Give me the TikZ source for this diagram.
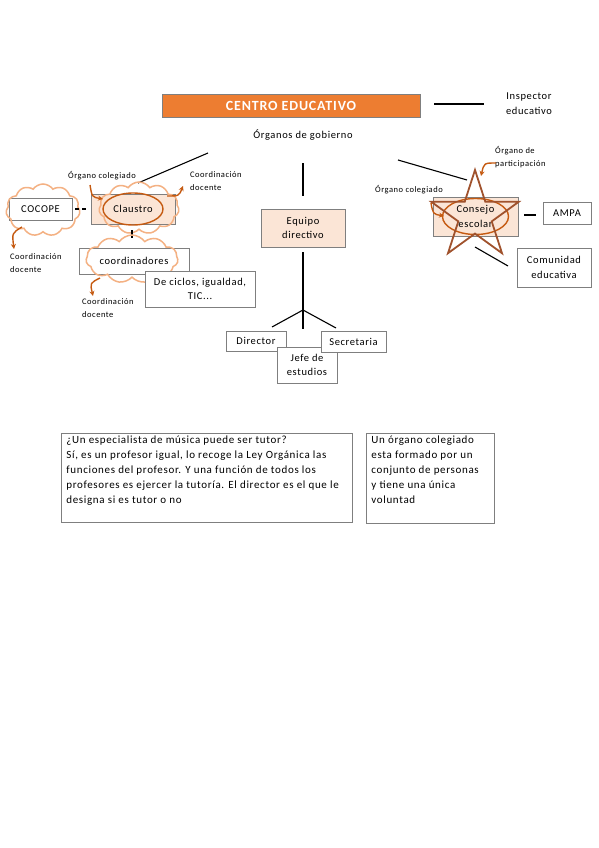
\documentclass[tikz,border=0pt]{standalone}
\usepackage{fontspec}
\setmainfont{Carlito}[LetterSpace=6]
\usepackage{xcolor}
\definecolor{CEorange}{HTML}{ED7D31}
\definecolor{CEpeach}{HTML}{FBE5D6}
\definecolor{CEbrown}{HTML}{C55A11}
\definecolor{CEstar}{HTML}{A0522D}
\definecolor{CEcloud}{HTML}{F4B183}
\definecolor{CEgray}{HTML}{7F7F7F}
\usetikzlibrary{arrows.meta, shapes.geometric, shapes.symbols, positioning}

\begin{document}
\begin{tikzpicture}[x=1pt, y=-1pt]
\tikzset{
  box/.style={draw=CEgray, thick, fill=white, inner sep=1pt, align=center,
    font=\fontsize{10.5}{14.5}\selectfont},
  tinted/.style={box, fill=CEpeach},
  note/.style={font=\fontsize{8.5}{13}\selectfont, align=left, inner sep=0pt},
  puff/.style={cloud, cloud puffs=11, cloud puff arc=110, draw=CEcloud, line width=1.5pt},
  bent/.style={-{Stealth[length=5pt, width=5pt]}, CEbrown, line width=1.4pt},
  link/.style={black, line width=1.1pt},
}
  \useasboundingbox[fill=white] (0,0) rectangle (599,848);

  % Cabecera
  \node[box, fill=CEorange, minimum width=258, minimum height=23,
    text=white, font=\fontsize{14}{15}\selectfont\bfseries] (centro) at (291,105.5)
    {CENTRO EDUCATIVO};
  \node[font=\fontsize{10.5}{15}\selectfont, align=center] (inspector) at (529,104)
    {Inspector\\educativo};
  \node[font=\fontsize{10.5}{14}\selectfont] (gobierno) at (303,135) {Órganos de gobierno};
  \coordinate (insA) at (434,104);
  \coordinate (insB) at (484,104);
  \draw[link] (insA) -- (insB);

  % Ramas de los órganos de gobierno
  \coordinate (gobL) at (208,153);
  \coordinate (clsT) at (138,183);
  \coordinate (gobC) at (303,163);
  \coordinate (eqT) at (303,196);
  \coordinate (gobR) at (398,160);
  \coordinate (conT) at (467,180);
  \draw[link] (gobL) -- (clsT);
  \draw[link] (gobC) -- (eqT);
  \draw[link] (gobR) -- (conT);

  % Equipo directivo
  \node[tinted, minimum width=84, minimum height=38] (equipo) at (303,228)
    {Equipo\\directivo};
  \coordinate (eqB) at (303,252);
  \coordinate (fork) at (303,310);
  \coordinate (dirT) at (272,327);
  \coordinate (jefT) at (303,329);
  \coordinate (secT) at (336,328);
  \draw[link] (eqB) -- (fork);
  \draw[link] (fork) -- (dirT);
  \draw[link] (fork) -- (jefT);
  \draw[link] (fork) -- (secT);
  \node[box, minimum width=60, minimum height=20] (director) at (256,341) {Director};
  \node[box, minimum width=60, minimum height=36] (jefe) at (307,365) {Jefe de\\estudios};
  \node[box, minimum width=65, minimum height=21] (secretaria) at (353.5,341.5) {Secretaria};

  % Claustro y COCOPE
  \node[box, minimum width=63, minimum height=22] (cocope) at (40.5,209) {COCOPE};
  \node[tinted, minimum width=84, minimum height=30] (claustro) at (133,209) {Claustro};
  \node[puff, minimum width=74, minimum height=52] (nubeCocope) at (43,210) {};
  \node[puff, minimum width=80, minimum height=52] (nubeClaustro) at (139,208) {};
  \draw[CEbrown, line width=1.4pt] (claustro.center) ellipse (30 and 16);
  \draw[link, dash pattern=on 4pt off 3pt] (cocope.east) ++(3,0) coordinate (dashA)
    -- ++(11,0) coordinate (dashB);
  \coordinate (clsB) at (132,230);
  \coordinate (crdT) at (132,238);
  \draw[link] (clsB) -- (crdT);

  % Coordinadores
  \node[box, minimum width=110, minimum height=26] (coordinadores) at (134,261) {coordinadores};
  \node[puff, minimum width=92, minimum height=48] (nubeCoord) at (132,259) {};
  \node[box, minimum width=110, minimum height=36] (ciclos) at (200,289)
    {De ciclos, igualdad,\\TIC...};

  % Notas de la izquierda
  \node[note, anchor=west] (colegIzq) at (68,176) {Órgano colegiado};
  \node[note, anchor=west] (coordA) at (190,181) {Coordinación\\docente};
  \node[note, anchor=west] (coordB) at (10,263) {Coordinación\\docente};
  \node[note, anchor=west] (coordC) at (82,308) {Coordinación\\docente};
  \draw[bent] (90,185) .. controls (92,197) .. (103,199);
  \draw[bent] (167,196) .. controls (179,196) .. (183,186);
  \draw[bent] (22,227) .. controls (12,233) .. (14,249);
  \draw[bent] (100,278) .. controls (90,283) .. (93,296);

  % Consejo escolar
  \node[tinted, minimum width=85, minimum height=39] (consejo) at (475.5,216.5)
    {Consejo\\escolar};
  \draw[CEbrown, line width=1.4pt] (consejo.center) ellipse (33 and 18);
  \draw[CEstar, line width=1.8pt, line join=miter]
    (475,170) -- (485.3,201.8) -- (518.7,201.8) -- (491.7,221.4) -- (502,253.2)
    -- (475,233.6) -- (448,253.2) -- (458.3,221.4) -- (431.3,201.8)
    -- (464.7,201.8) -- cycle;
  \node[box, minimum width=48, minimum height=22] (ampa) at (567,213) {AMPA};
  \node[box, minimum width=74, minimum height=39] (comunidad) at (554,267.5)
    {Comunidad\\educativa};
  \coordinate (conR) at (524,215);
  \coordinate (ampL) at (536,215);
  \coordinate (conB) at (475,247);
  \coordinate (comL) at (508,266);
  \draw[link] (conR) -- (ampL);
  \draw[link] (conB) -- (comL);

  % Notas de la derecha
  \node[note, anchor=west] (participacion) at (495,157.5) {Órgano de\\participación};
  \node[note, anchor=west] (colegDer) at (375,190) {Órgano colegiado};
  \draw[bent] (496,163) .. controls (484,163) .. (481,176);
  \draw[bent] (431,203) .. controls (433,214) .. (444,216);

  % Cuadros de texto inferiores
  \node[draw=CEgray, thick, anchor=north west, inner xsep=5pt, inner ysep=2pt] (pregunta)
    at (61,433) {\parbox[t][85pt][t]{281pt}{\fontsize{11}{15}\selectfont\raggedright
    ¿Un especialista de música puede ser tutor?\\
    Sí, es un profesor igual, lo recoge la Ley Orgánica las\\
    funciones del profesor. Y una función de todos los\\
    profesores es ejercer la tutoría. El director es el que le\\
    designa si es tutor o no}};
  \node[draw=CEgray, thick, anchor=north west, inner xsep=5pt, inner ysep=2pt] (definicion)
    at (366,433) {\parbox[t][86pt][t]{118pt}{\fontsize{11}{15}\selectfont\raggedright
    Un órgano colegiado\\
    esta formado por un\\
    conjunto de personas\\
    y tiene una única\\
    voluntad}};
\end{tikzpicture}
\end{document}
